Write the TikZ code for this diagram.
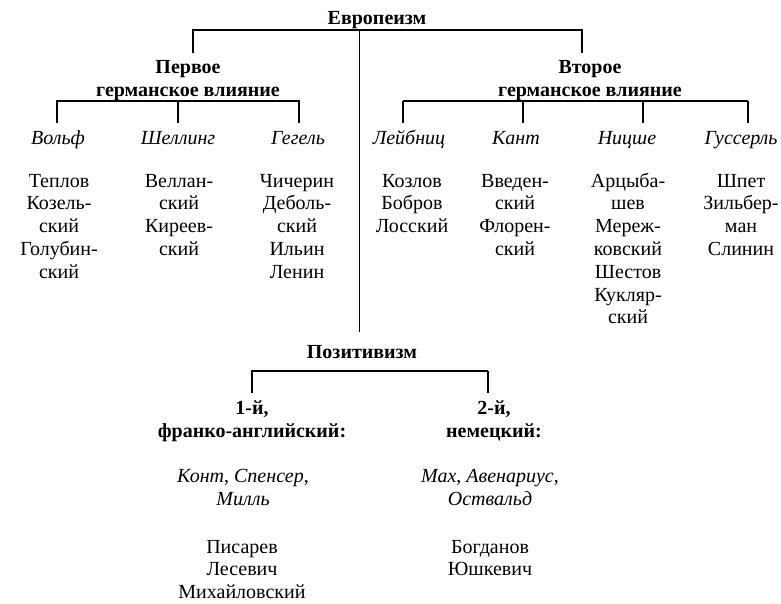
\documentclass[tikz,border=0pt]{standalone}
\usepackage{fontspec}
\setmainfont{Liberation Serif}
\newcommand{\tstrut}{\rule{0pt}{15pt}}
\begin{document}
\begin{tikzpicture}[x=1pt,y=-1pt,
  every node/.style={inner sep=0pt,outer sep=0pt,font=\fontsize{20}{22.8}\selectfont,align=center},
  hdr/.style={font=\fontsize{20}{22.8}\selectfont\bfseries},
  phil/.style={font=\fontsize{20}{22.8}\selectfont\itshape,anchor=base},
  lst/.style={anchor=north},
  bus/.style={line width=1.6pt},
  drop/.style={line width=1.1pt},
  trunk/.style={line width=0.8pt}]
\useasboundingbox (0,0) rectangle (781,603);
% headers
\node[hdr,anchor=base] (evr) at (377,24) {Европеизм};
\node[hdr,anchor=north] (g1) at (188,58.5) {\tstrut Первое\\германское влияние};
\node[hdr,anchor=north] (g2) at (590,58.5) {\tstrut Второе\\германское влияние};
\node[hdr,anchor=base] (poz) at (362,358) {Позитивизм};
\node[hdr,anchor=north] (p1) at (252,399.5) {\tstrut 1-й,\\франко-английский:};
\node[hdr,anchor=north] (p2) at (494,399.5) {\tstrut 2-й,\\немецкий:};
% philosophers
\node[phil] (wolf) at (58,144) {Вольф};
\node[phil] (schel) at (178,144) {Шеллинг};
\node[phil] (hegel) at (298,144) {Гегель};
\node[phil] (leib) at (409,144) {Лейбниц};
\node[phil] (kant) at (516,144) {Кант};
\node[phil] (nietz) at (627,144) {Ницше};
\node[phil] (huss) at (741,144) {Гуссерль};
\node[lst] (pp1) at (243,467.5) {\tstrut\textit{Конт}, \textit{Спенсер},\\\textit{Милль}};
\node[lst] (pp2) at (490,467.5) {\tstrut\textit{Мах}, \textit{Авенариус},\\\textit{Оствальд}};
% followers
\node[lst] (l1) at (59,172) {\tstrut Теплов\\Козель-\\ский\\Голубин-\\ский};
\node[lst] (l2) at (179,172) {\tstrut Веллан-\\ский\\Киреев-\\ский};
\node[lst] (l3) at (297,172) {\tstrut Чичерин\\Деболь-\\ский\\Ильин\\Ленин};
\node[lst] (r1) at (412,172) {\tstrut Козлов\\Бобров\\Лосский};
\node[lst] (r2) at (515,172) {\tstrut Введен-\\ский\\Флорен-\\ский};
\node[lst] (r3) at (628,172) {\tstrut Арцыба-\\шев\\Мереж-\\ковский\\Шестов\\Кукляр-\\ский};
\node[lst] (r4) at (741,172) {\tstrut Шпет\\Зильбер-\\ман\\Слинин};
\node[lst] (f1) at (242,538) {\tstrut Писарев\\Лесевич\\Михайловский};
\node[lst] (f2) at (490,538) {\tstrut Богданов\\Юшкевич};
% bus coordinates
\coordinate (tA) at (193,30); \coordinate (tB) at (582,30); \coordinate (tC) at (359,30);
\coordinate (tAd) at (193,53); \coordinate (tBd) at (582,53); \coordinate (tCd) at (359,332);
\coordinate (lA) at (57,101); \coordinate (lB) at (299,101); \coordinate (lM) at (178,101);
\coordinate (rA) at (403,101); \coordinate (rB) at (748,101); \coordinate (rM1) at (523,101); \coordinate (rM2) at (643,101);
\coordinate (pA) at (252,371); \coordinate (pB) at (488,371);
\coordinate (lAd) at (57,123); \coordinate (pAd) at (252,393);
% lines
\draw[bus] (tAd) -- (tA) -- (tB) -- (tBd);
\draw[trunk] (tC) -- (tCd);
\draw[bus] (lAd) -- (lA) -- (lB) -- (lB |- lAd);
\draw[drop] (lM) -- (lM |- lAd);
\draw[bus] (rA) -- (rB);
\draw[drop] (rA) -- (rA |- lAd);
\draw[drop] (rM1) -- (rM1 |- lAd);
\draw[drop] (rM2) -- (rM2 |- lAd);
\draw[drop] (rB) -- (rB |- lAd);
\draw[bus] (pAd) -- (pA) -- (pB);
\draw[drop] (pB) -- (pB |- pAd);
\end{tikzpicture}
\end{document}
